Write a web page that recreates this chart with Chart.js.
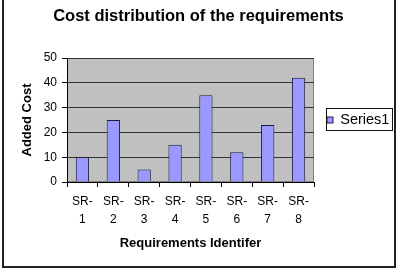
<!DOCTYPE html>
<html>
<head>
<meta charset="utf-8">
<script src="https://cdn.jsdelivr.net/npm/chart.js@4/dist/chart.umd.min.js"></script>
<style>
  body { margin: 0; background: #fff; }
  #wrap { position: relative; width: 397px; height: 274px; }
  #frame {
    position: absolute; left: 2px; top: -2px; width: 394px; height: 270px;
    box-sizing: border-box; border: 2px solid #222; pointer-events: none;
  }
  #legendBox {
    position: absolute; left: 326px; top: 108px; width: 67px; height: 23px;
    box-sizing: border-box; border: 1px solid #111; pointer-events: none;
  }
</style>
</head>
<body>
<div id="wrap">
  <canvas id="chart"></canvas>
  <div id="legendBox"></div>
  <div id="frame"></div>
</div>
<script>
const categories = ["SR-1", "SR-2", "SR-3", "SR-4", "SR-5", "SR-6", "SR-7", "SR-8"]
const series1 = [10, 25, 5, 15, 35, 12, 23, 42]
const yTicks = [0, 10, 20, 30, 40, 50]

Chart.defaults.font.family = "'Liberation Sans', Arial, sans-serif"
Chart.defaults.color = "#000"

// split "SR-1" into two lines like the original
const labels = categories.map((c) => [c.slice(0, 3), c.slice(3)])

// grey plot background
const plotBg = {
  id: "plotBg",
  beforeDraw(chart) {
    const { ctx, chartArea: a } = chart
    ctx.save()
    ctx.fillStyle = "#c0c0c0"
    ctx.fillRect(a.left, a.top, a.right - a.left, a.bottom - a.top)
    ctx.lineWidth = 1
    ctx.strokeStyle = "#808080"
    ctx.strokeRect(a.left + 0.5, a.top + 0.5, a.right - a.left - 1, a.bottom - a.top - 1)
    ctx.restore()
  },
}

const data = {
  labels: labels,
  datasets: [
    {
      label: "Series1",
      data: series1,
      backgroundColor: "#9999ff",
      borderColor: "#1a1a40",
      borderWidth: 1,
      categoryPercentage: 1,
      barPercentage: 0.43,
    },
  ],
}

const config = {
  type: "bar",
  data: data,
  options: {
    responsive: true,
    maintainAspectRatio: false,
    animation: false,
    layout: { padding: 0 },
    plugins: {
      title: {
        display: true,
        text: "Cost distribution of the requirements",
        font: { size: 16.5, weight: "bold" },
        color: "#000",
        padding: { top: 7, bottom: 31.2 },
      },
      legend: {
        display: true,
        position: "right",
        fullSize: false,
        maxWidth: 83,
        labels: {
          boxWidth: 6,
          boxHeight: 6,
          padding: 13,
          font: { size: 14.5 },
          color: "#000",
        },
      },
      tooltip: { enabled: false },
    },
    scales: {
      x: {
        grid: { drawOnChartArea: false, tickLength: 5, tickColor: "#000" },
        border: { color: "#000", width: 1 },
        ticks: { autoSkip: false, maxRotation: 0, padding: 6, font: { size: 12, lineHeight: 1.5 } },
        title: {
          display: true,
          text: "Requirements Identifer",
          font: { size: 13, weight: "bold" },
          padding: { top: 6, bottom: 23.2 },
        },
        afterFit(scale) {
          scale.height = 92
        },
      },
      y: {
        min: 0,
        max: 50,
        afterBuildTicks(scale) {
          scale.ticks = yTicks.map((v) => ({ value: v }))
        },
        grid: { color: "#333", tickLength: 5, tickColor: "#000" },
        border: { color: "#000", width: 1 },
        ticks: { padding: 5, font: { size: 12 } },
        title: {
          display: true,
          text: "Added Cost",
          font: { size: 13, weight: "bold" },
          padding: { top: 19.5, bottom: 0 },
        },
        afterFit(scale) {
          scale.width = 67
        },
      },
    },
  },
  plugins: [plotBg],
}

const myChart = new Chart(document.getElementById("chart"), config)
</script>
</body>
</html>
